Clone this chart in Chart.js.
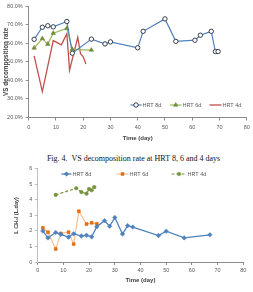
<!DOCTYPE html>
<html>
<head>
<meta charset="utf-8">
<script src="https://cdn.jsdelivr.net/npm/chart.js@4/dist/chart.umd.min.js"></script>
<style>
  html,body{margin:0;padding:0;background:#fff;width:253px;height:292px;overflow:hidden;}
  #c1{position:absolute;left:0;top:0;}
  #c2{position:absolute;left:0;top:163px;}
  #cap{position:absolute;left:0;width:267px;top:154px;text-align:center;font-family:"Liberation Serif","Times New Roman",serif;font-size:8px;line-height:10px;color:#111;white-space:nowrap;}
</style>
</head>
<body>
<canvas id="c1" width="253" height="148"></canvas>
<div id="cap">Fig. 4.&nbsp; VS decomposition rate at HRT 8, 6 and 4 days</div>
<canvas id="c2" width="253" height="129"></canvas>
<script>
// ---- Data: VS decomposition rate (%) ----
const seriesNames = ["HRT 8d", "HRT 6d", "HRT 4d"];
const vsDays8 = [2,5,7,9,14,16,23,28,30,40,42,50,54,61,63,67,68.5,69.5];
const vsRate8 = [62.2,68.7,69.5,68.9,71.8,54.7,62.3,59.7,60.8,57.6,66.5,73.2,61.1,61.7,64.4,66.5,55.6,55.6];
const vsDays6 = [2,5,7,9,14,16,23];
const vsRate6 = [57.5,62.6,59.6,65.5,68.1,56.8,56.4];
const vsDays4 = [2,5,9,12,14,15,18,19,20,21];
const vsRate4 = [53.2,34.0,61.5,59.2,65.2,45.6,63.3,54.5,52.8,48.8];

// ---- Data: methane production rate L CH4/(L.day) ----
const chDays8 = [2,4,7,9,12,14,17,19,21,23,26,28,30,33,35,37,47,50,57,67];
const chRate8 = [2.0,1.55,1.9,1.78,1.6,1.82,1.67,1.72,1.62,2.27,2.66,2.3,2.86,1.8,2.34,2.25,1.7,1.98,1.55,1.75];
const chDays6 = [2,4,7,9,12,14,16,19,21,23];
const chRate6 = [2.2,1.92,0.84,1.84,1.92,1.15,3.27,2.44,2.52,2.46];
const chDays4 = [7,15,17,19,20,21,22];
const chRate4 = [4.32,4.75,4.5,4.4,4.7,4.62,4.82];

const xTitle = "Time (day)";
const yTitleTop = "VS decomposition rate";
const yTitleBottom = "L CH\u2084/ (L.day)";

const pts = (xs, ys) => xs.map((x, i) => ({x: x, y: ys[i]}));
const FONT = "'Liberation Sans', Arial, sans-serif";
const TICK = '#595959';

// custom in-plot legend (line + marker + label)
const inLegend = {
  id: 'inLegend',
  afterDraw(chart, args, opts) {
    const ctx = chart.ctx;
    ctx.save();
    chart.data.datasets.forEach((ds, i) => {
      const it = opts.items[i];
      ctx.save();
      ctx.strokeStyle = ds.borderColor;
      ctx.lineWidth = ds.borderWidth || 1.2;
      ctx.setLineDash(ds.borderDash || []);
      ctx.beginPath();
      ctx.moveTo(it.x0, opts.y);
      ctx.lineTo(it.x1, opts.y);
      ctx.stroke();
      ctx.restore();
      if (ds.pointRadius > 0) {
        ctx.save();
        ctx.fillStyle = ds.pointBackgroundColor;
        ctx.strokeStyle = ds.pointBorderColor;
        ctx.lineWidth = ds.pointBorderWidth || 1;
        Chart.helpers.drawPoint(ctx, {pointStyle: ds.pointStyle, radius: ds.pointRadius, rotation: 0, borderWidth: ds.pointBorderWidth || 1}, (it.x0 + it.x1) / 2, opts.y);
        ctx.restore();
      }
      ctx.fillStyle = TICK;
      ctx.font = "5.5px " + FONT;
      ctx.textBaseline = 'middle';
      ctx.textAlign = 'left';
      ctx.fillText(ds.label, it.x1 + 1, opts.y);
    });
    ctx.restore();
  }
};

function axisX(height, tickPad, titlePadBottom) {
  return {
    type: 'linear', min: 0, max: 80,
    afterFit: s => { s.height = height; },
    border: {display: true, color: '#8c8c8c', width: 1},
    grid: {display: true, drawOnChartArea: false, drawTicks: true, tickLength: 3, color: '#8c8c8c'},
    ticks: {stepSize: 10, color: TICK, font: {family: FONT, size: 5.5}, padding: tickPad, maxRotation: 0},
    title: {display: true, text: xTitle, color: '#404040', font: {family: FONT, size: 6, weight: 'bold', lineHeight: 1.2}, padding: {top: 0, bottom: titlePadBottom}}
  };
}

// ---------- Top chart ----------
new Chart(document.getElementById('c1'), {
  type: 'line',
  data: {
    datasets: [
      {label: seriesNames[0], data: pts(vsDays8, vsRate8), borderColor: '#4f81bd', borderWidth: 1.2,
       pointStyle: 'circle', pointRadius: 2.2, pointBackgroundColor: '#ffffff', pointBorderColor: '#333c4a', pointBorderWidth: 1},
      {label: seriesNames[1], data: pts(vsDays6, vsRate6), borderColor: '#9bbb59', borderWidth: 1.2,
       pointStyle: 'triangle', pointRadius: 2.6, pointBackgroundColor: '#6f8a35', pointBorderColor: '#6f8a35', pointBorderWidth: 0.5},
      {label: seriesNames[2], data: pts(vsDays4, vsRate4), borderColor: '#c0504d', borderWidth: 1.3,
       pointRadius: 0, pointBackgroundColor: '#c0504d', pointBorderColor: '#c0504d'}
    ]
  },
  options: {
    responsive: false, animation: false, devicePixelRatio: 1,
    layout: {padding: {top: 6, right: 6.3, left: 0, bottom: 0}},
    plugins: {
      legend: {display: false}, tooltip: {enabled: false},
      inLegend: {y: 105, items: [{x0: 130.5, x1: 141.5}, {x0: 170, x1: 181.5}, {x0: 209.5, x1: 221.5}]}
    },
    elements: {line: {tension: 0}},
    scales: {
      x: axisX(30.5, 3.2, 6.5),
      y: {
        min: 20, max: 80,
        afterFit: s => { s.width = 28.7; },
        border: {display: true, color: '#8c8c8c', width: 1},
        grid: {display: true, drawOnChartArea: false, drawTicks: true, tickLength: 3, color: '#8c8c8c'},
        ticks: {stepSize: 10, color: TICK, font: {family: FONT, size: 5.5}, padding: 3, callback: v => v.toFixed(1) + '%'},
        title: {display: true, text: yTitleTop, color: '#404040', font: {family: FONT, size: 6.3, weight: 'bold', lineHeight: 1.2}, padding: {top: 2.4, bottom: 0}}
      }
    }
  },
  plugins: [inLegend]
});

// ---------- Bottom chart ----------
new Chart(document.getElementById('c2'), {
  type: 'line',
  data: {
    datasets: [
      {label: seriesNames[0], data: pts(chDays8, chRate8), borderColor: '#4f81bd', borderWidth: 1.3,
       pointStyle: 'rectRot', pointRadius: 2.3, pointBackgroundColor: '#4f81bd', pointBorderColor: '#4f81bd', pointBorderWidth: 0.5},
      {label: seriesNames[1], data: pts(chDays6, chRate6), borderColor: '#f9be8f', borderWidth: 1.2,
       pointStyle: 'rect', pointRadius: 2.1, pointBackgroundColor: '#e46c0a', pointBorderColor: '#e46c0a', pointBorderWidth: 0.5},
      {label: seriesNames[2], data: pts(chDays4, chRate4), borderColor: '#77933c', borderWidth: 1.2, borderDash: [3, 2],
       pointStyle: 'circle', pointRadius: 1.8, pointBackgroundColor: '#77933c', pointBorderColor: '#77933c', pointBorderWidth: 0.5}
    ]
  },
  options: {
    responsive: false, animation: false, devicePixelRatio: 1,
    layout: {padding: {top: 4, right: 9.7, left: 0, bottom: 0}},
    plugins: {
      legend: {display: false}, tooltip: {enabled: false},
      inLegend: {y: 11, items: [{x0: 61.5, x1: 71.5}, {x0: 116.5, x1: 128.5}, {x0: 171.5, x1: 186.5}]}
    },
    elements: {line: {tension: 0}},
    scales: {
      x: axisX(30, 2.5, 8.4),
      y: {
        min: 0, max: 6,
        afterFit: s => { s.width = 37.7; },
        border: {display: true, color: '#bfbfbf', width: 1},
        grid: {display: true, drawOnChartArea: false, drawTicks: true, tickLength: 3, color: '#bfbfbf'},
        ticks: {stepSize: 1, color: TICK, font: {family: FONT, size: 5.5}, padding: 2.5},
        title: {display: true, text: yTitleBottom, color: '#404040', font: {family: FONT, size: 5.5, weight: 'bold', lineHeight: 1.2}, padding: {top: 13.4, bottom: 0}}
      }
    }
  },
  plugins: [inLegend]
});
</script>
</body>
</html>
